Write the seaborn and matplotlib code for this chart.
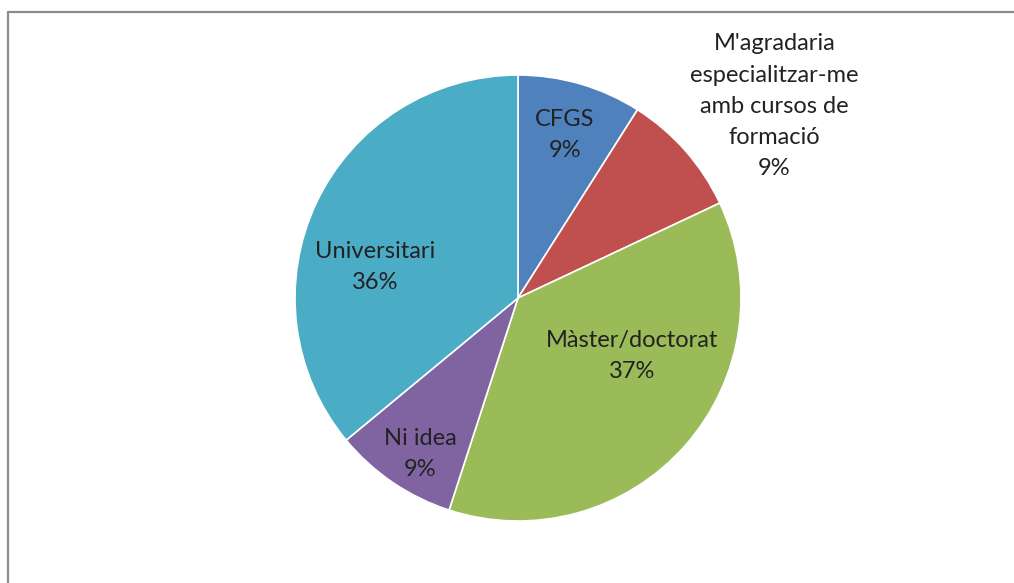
import matplotlib
matplotlib.use("Agg")
import matplotlib.pyplot as plt
import seaborn as sns

sns.set_theme(style="white")
plt.rcParams['font.family'] = ['Lato', 'DejaVu Sans']

# data
categories = ["CFGS", "M'agradaria\nespecialitzar-me\namb cursos de\nformació",
              "Màster/doctorat", "Ni idea", "Universitari"]
values = [9, 9, 37, 9, 36]
colors = ["#4F81BD", "#C0504D", "#9BBB59", "#8064A2", "#4BACC6"]

# label positions in units of the radius
label_pos = [(0.21, 0.73), (1.15, 0.86), (0.51, -0.26), (-0.44, -0.70), (-0.64, 0.14)]

W, H = 1014, 583
fig = plt.figure(figsize=(W / 100, H / 100), dpi=100)

# outer frame (only top & left visible in the reference)
fig.add_artist(plt.Line2D([8 / W, 1], [1 - 12 / H, 1 - 12 / H], color="#8c8c8c", lw=1.6))
fig.add_artist(plt.Line2D([8 / W, 8 / W], [0, 1 - 12 / H], color="#8c8c8c", lw=1.6))

cx, cy, r = 518, 298, 223
ax = fig.add_axes([(cx - r) / W, (H - cy - r) / H, 2 * r / W, 2 * r / H])
ax.pie(values, colors=colors, startangle=90, counterclock=False,
       radius=1, wedgeprops=dict(edgecolor="white", linewidth=1.2))
ax.set_xlim(-1.0, 1.0)
ax.set_ylim(-1.0, 1.0)

for cat, v, (x, y) in zip(categories, values, label_pos):
    ax.text(x, y, f"{cat}\n{v}%", ha="center", va="center", fontsize=17,
            color="#222222", linespacing=1.6)

fig.savefig("out.png", dpi=100)
